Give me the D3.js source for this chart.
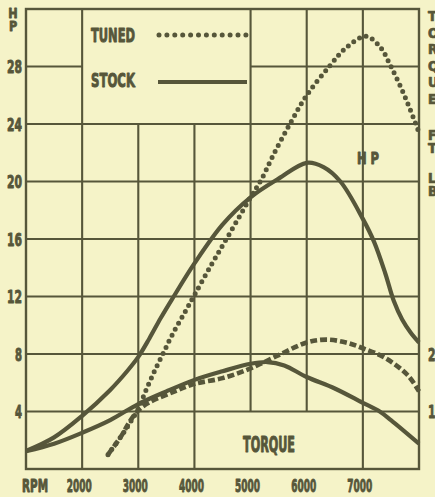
<!DOCTYPE html>
<html><head><meta charset="utf-8">
<script src="https://cdn.jsdelivr.net/npm/d3@7"></script>
<style>
html,body{margin:0;padding:0;background:#f5f3c8;overflow:hidden;}
svg{display:block;}
</style></head><body>
<svg id="chart" width="435" height="497"></svg>
<script>
// Axis ticks
const rpmTicks = [2000, 3000, 4000, 5000, 6000, 7000];
const hpTicks = [4, 8, 12, 16, 20, 24, 28];
const torqueTicks = [10, 20];           // ft-lb, right-hand scale

// Stock engine: horsepower
const stockHpRpm = [1000, 1500, 2000, 2500, 2800, 3000, 3200, 3400, 3600, 4000, 4500, 5000, 5500, 6000, 6300, 6600, 7000, 7200, 7400, 7550, 7700, 7850, 8000];
const stockHp    = [1.25, 2.2, 3.7, 5.5, 6.8, 7.8, 9.1, 10.5, 11.8, 14.3, 17.0, 18.9, 20.2, 21.3, 21.0, 20.0, 17.4, 15.8, 13.6, 11.7, 10.4, 9.5, 8.8];

// Tuned engine: horsepower
const tunedHpRpm = [2460, 2700, 2850, 3000, 3150, 3300, 3450, 3600, 3800, 4000, 4300, 4600, 5000, 5200, 5400, 5700, 6000, 6400, 6700, 7050, 7300, 7500, 7750, 8000];
const tunedHp    = [1.0, 2.3, 3.2, 4.2, 5.6, 6.9, 8.1, 9.3, 10.7, 12.1, 14.2, 16.2, 18.9, 20.2, 21.8, 24.0, 26.0, 28.0, 29.3, 30.1, 29.4, 28.0, 25.9, 23.4];

// Stock engine: torque (ft-lb)
const stockTqRpm = [1000, 1500, 2000, 2500, 3000, 3500, 4000, 4500, 5000, 5300, 5600, 6000, 6500, 7000, 7300, 7500, 8000];
const stockTq    = [3.1, 4.4, 6.3, 8.5, 11.3, 13.5, 15.5, 17.0, 18.3, 18.6, 18.0, 16.0, 14.0, 11.5, 10.0, 8.5, 4.4];

// Tuned engine: torque (ft-lb)
const tunedTqRpm = [2460, 2700, 2850, 3000, 3200, 3650, 4000, 4500, 5000, 5500, 6000, 6350, 6700, 7000, 7400, 7800, 8000];
const tunedTq    = [2.5, 5.8, 8.3, 10.2, 11.6, 13.5, 14.8, 15.8, 17.5, 19.8, 22.0, 22.5, 22.0, 21.0, 19.3, 16.3, 13.5];

const INK = "#56563a";
const PAPER = "#f5f3c8";
const FONT = "'Liberation Sans Narrow','DejaVu Sans Condensed','Roboto Condensed',sans-serif";

const svg = d3.select("#chart");
svg.append("rect").attr("width", 435).attr("height", 497).attr("fill", PAPER);

const x = d3.scaleLinear().domain([1000, 8000]).range([26, 419]);
const y = d3.scaleLinear().domain([0, 32]).range([469, 9]);
const yTq = d3.scaleLinear().domain([0, 80]).range([469, 9]);

// Open panels inside the grid (legend panel and torque caption panel)
const panels = [
  {r0: 2000, r1: 5000, v0: 24, v1: 32},
  {r0: 4000, r1: 7000, v0: 0, v1: 4}
];

function subtract(lo, hi, holes) {
  let segs = [[lo, hi]];
  holes.forEach(([a, b]) => {
    const next = [];
    segs.forEach(([s, e]) => {
      if (b <= s || a >= e) { next.push([s, e]); return; }
      if (a > s) next.push([s, a]);
      if (b < e) next.push([b, e]);
    });
    segs = next;
  });
  return segs;
}

const grid = svg.append("g").attr("stroke", INK).attr("stroke-width", 2.1).attr("fill", "none");

rpmTicks.forEach(r => {
  const holes = panels.filter(p => p.r0 < r && r < p.r1).map(p => [p.v0, p.v1]);
  subtract(0, 32, holes).forEach(([a, b]) => {
    grid.append("line").attr("x1", x(r)).attr("x2", x(r)).attr("y1", y(a)).attr("y2", y(b));
  });
});
hpTicks.forEach(v => {
  const holes = panels.filter(p => p.v0 < v && v < p.v1).map(p => [p.r0, p.r1]);
  subtract(1000, 8000, holes).forEach(([a, b]) => {
    grid.append("line").attr("x1", x(a)).attr("x2", x(b)).attr("y1", y(v)).attr("y2", y(v));
  });
});
grid.append("rect")
  .attr("x", x(1000)).attr("y", y(32))
  .attr("width", x(8000) - x(1000)).attr("height", y(0) - y(32))
  .attr("stroke-width", 2.4);

// Curves
const curves = svg.append("g").attr("fill", "none").attr("stroke", INK).attr("stroke-width", 4.2);

function series(rpms, vals, scale) {
  return rpms.map((r, i) => [x(r), scale(vals[i])]);
}
const line = d3.line().curve(d3.curveCatmullRom.alpha(0.5));

curves.append("path").attr("d", line(series(stockHpRpm, stockHp, y)));
curves.append("path").attr("d", line(series(stockTqRpm, stockTq, yTq)));
curves.append("path").attr("d", line(series(tunedTqRpm, tunedTq, yTq)))
  .attr("stroke-dasharray", "7 3").attr("stroke-width", 4.6);
curves.append("path").attr("d", line(series(tunedHpRpm, tunedHp, y)))
  .attr("stroke-linecap", "round").attr("stroke-dasharray", "0 6.8").attr("stroke-width", 5);

// Stretched condensed lettering
function label(g, str, px, baseline, o) {
  const t = g.append("text")
    .attr("transform", `translate(${px},${baseline}) scale(1,${o.sy || 1.3})`)
    .attr("text-anchor", o.anchor || "start")
    .attr("font-size", o.size || 14)
    .text(str);
  if (o.len) t.attr("textLength", o.len).attr("lengthAdjust", "spacingAndGlyphs");
  return t;
}
const txt = svg.append("g").attr("fill", INK).attr("font-family", FONT).attr("font-weight", "bold")
  .attr("stroke", INK).attr("stroke-width", 0.7).attr("stroke-linejoin", "round");

// Legend
label(txt, "TUNED", 91, 42, {size: 15, sy: 1.3, len: 44});
label(txt, "STOCK", 91, 87, {size: 15, sy: 1.3, len: 44});
const leg = svg.append("g").attr("stroke", INK).attr("fill", "none");
leg.append("line").attr("x1", 159).attr("x2", 246).attr("y1", 35).attr("y2", 35)
  .attr("stroke-width", 5).attr("stroke-linecap", "round").attr("stroke-dasharray", "0 7.9");
leg.append("line").attr("x1", 158).attr("x2", 247).attr("y1", 82).attr("y2", 82)
  .attr("stroke-width", 4.2);

// Left axis (HP)
hpTicks.forEach(v => {
  label(txt, String(v), 22, y(v) + 6.5, {size: 14, sy: 1.3, anchor: "end", len: String(v).length === 1 ? 7 : 15});
});
label(txt, "H", 13, 18, {size: 12.5, sy: 1.1, anchor: "middle"});
label(txt, "P", 13, 31, {size: 12.5, sy: 1.1, anchor: "middle"});

// Bottom axis (RPM)
rpmTicks.forEach(r => {
  label(txt, String(r), x(r) - 3, 492, {size: 13.5, sy: 1.33, anchor: "middle", len: 25});
});
label(txt, "RPM", 35, 492, {size: 13.5, sy: 1.33, anchor: "middle", len: 26});

// Right axis (torque, ft-lb)
torqueTicks.forEach(t => {
  label(txt, String(t), 428, yTq(t) + 6.5, {size: 14, sy: 1.3, len: 15});
});
const vertical = [["T", 21], ["O", 37.5], ["R", 54], ["Q", 70.5], ["U", 87], ["E", 103.5], ["F", 140], ["T", 153], ["L", 183], ["B", 196]];
vertical.forEach(([ch, b]) => label(txt, ch, 428, b, {size: 14, sy: 1.0}));

// Curve captions
label(txt, "H P", 368, 164, {size: 13, sy: 1.25, anchor: "middle", len: 22});
label(txt, "TORQUE", 269, 452, {size: 15, sy: 1.4, anchor: "middle", len: 52});
</script>
</body></html>
